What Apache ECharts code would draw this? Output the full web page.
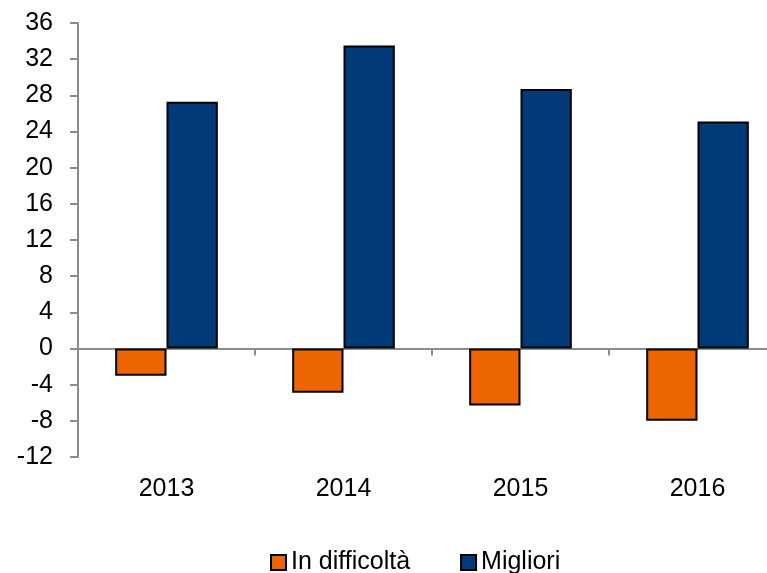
<!DOCTYPE html>
<html>
<head>
<meta charset="utf-8">
<script src="https://cdn.jsdelivr.net/npm/echarts@6/dist/echarts.min.js"></script>
<style>
  html, body { margin: 0; padding: 0; background: #fff; }
  #chart { width: 767px; height: 573px; }
</style>
</head>
<body>
<div id="chart"></div>
<script>
// dati
const anni = ['2013', '2014', '2015', '2016'];
const inDifficolta = [-3.0, -4.9, -6.3, -8.0];
const migliori = [27.3, 33.5, 28.7, 25.1];
const yMin = -12, yMax = 36, yStep = 4;

const font = 'Liberation Sans, Arial, sans-serif';
const grigio = '#8c8c8c';

let myChart = echarts.init(document.getElementById('chart'));

myChart.setOption({
    animation: false,
    grid: {
        left: 78,
        top: 23,
        width: 708,
        bottom: 116,
        outerBoundsMode: 'none',
        containLabel: false
    },
    legend: {
        left: 265,
        top: 545,
        icon: 'rect',
        itemWidth: 15,
        itemHeight: 15,
        itemGap: 50,
        textStyle: { fontFamily: font, fontSize: 25, color: '#000' },
        itemStyle: { borderColor: '#000', borderWidth: 2 },
        data: ['In difficoltà', 'Migliori']
    },
    xAxis: [
        {
            // etichette in basso
            type: 'category',
            data: anni,
            position: 'bottom',
            axisLine: { show: false, onZero: false },
            axisTick: { show: false },
            axisLabel: { fontFamily: font, fontSize: 25, color: '#000', margin: 20 }
        },
        {
            // linea dello zero
            type: 'category',
            data: anni,
            position: 'bottom',
            axisLine: { show: true, onZero: true, lineStyle: { color: grigio, width: 2 } },
            axisTick: { show: true, length: 7, lineStyle: { color: grigio, width: 2 } },
            axisLabel: { show: false }
        }
    ],
    yAxis: {
        type: 'value',
        min: yMin,
        max: yMax,
        interval: yStep,
        splitLine: { show: false },
        axisLine: { show: true, lineStyle: { color: grigio, width: 2 } },
        axisTick: { show: true, length: 8, lineStyle: { color: grigio, width: 2 } },
        axisLabel: { fontFamily: font, fontSize: 25, color: '#000', margin: 25 }
    },
    series: [
        {
            name: 'In difficoltà',
            type: 'bar',
            xAxisIndex: 1,
            data: inDifficolta,
            barGap: '0%',
            barCategoryGap: '42%',
            itemStyle: { color: '#ec6500', borderColor: '#000', borderWidth: 2 }
        },
        {
            name: 'Migliori',
            type: 'bar',
            xAxisIndex: 1,
            data: migliori,
            barGap: '0%',
            barCategoryGap: '42%',
            itemStyle: { color: '#003a78', borderColor: '#000', borderWidth: 2 }
        }
    ]
});
</script>
</body>
</html>
